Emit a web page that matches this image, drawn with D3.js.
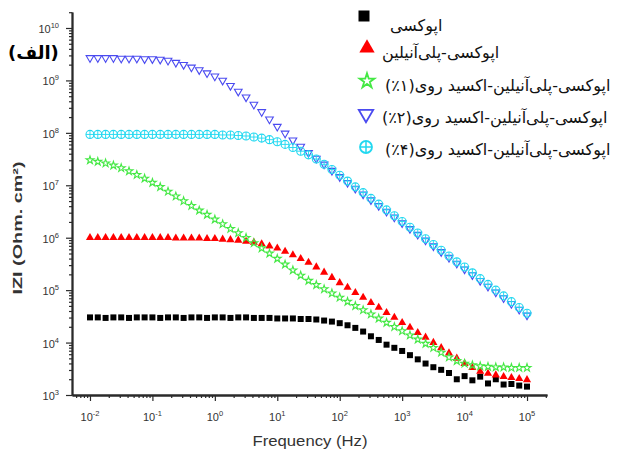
<!DOCTYPE html>
<html>
<head>
<meta charset="utf-8">
<script src="https://cdn.jsdelivr.net/npm/d3@7"></script>
<style>
  body { margin: 0; background: #fff; }
  svg { display: block; }
</style>
</head>
<body>
<div id="chart"></div>
<script>
(function() {
    'use strict';

    // log10 of frequency (Hz), 8 points per decade
    const logFreq = [
        -2, -1.875, -1.75, -1.625, -1.5, -1.375, -1.25, -1.125, -1,
        -0.875, -0.75, -0.625, -0.5, -0.375, -0.25, -0.125, 0,
        0.125, 0.25, 0.375, 0.5, 0.625, 0.75, 0.875, 1,
        1.125, 1.25, 1.375, 1.5, 1.625, 1.75, 1.875, 2,
        2.125, 2.25, 2.375, 2.5, 2.625, 2.75, 2.875, 3,
        3.125, 3.25, 3.375, 3.5, 3.625, 3.75, 3.875, 4,
        4.125, 4.25, 4.375, 4.5, 4.625, 4.75, 4.875, 5
    ];

    // log10 |Z| (Ohm.cm2)
    const epoxy = [
        4.48, 4.48, 4.47, 4.48, 4.48, 4.47, 4.48, 4.48, 4.48,
        4.47, 4.48, 4.48, 4.47, 4.48, 4.48, 4.47, 4.48,
        4.48, 4.47, 4.48, 4.48, 4.47, 4.47, 4.47, 4.46,
        4.46, 4.46, 4.45, 4.45, 4.44, 4.42, 4.40, 4.37,
        4.33, 4.28, 4.21, 4.12, 4.05, 3.96, 3.90, 3.84,
        3.76, 3.68, 3.60, 3.53, 3.48, 3.42, 3.30, 3.36,
        3.28, 3.35, 3.22, 3.30, 3.20, 3.21, 3.18, 3.16
    ];
    const epoxyPani = [
        6.00, 6.00, 6.00, 6.00, 6.00, 6.00, 6.00, 6.00, 6.00,
        6.00, 6.00, 5.99, 5.99, 5.99, 5.99, 5.98, 5.98,
        5.97, 5.96, 5.95, 5.93, 5.91, 5.88, 5.84, 5.80,
        5.74, 5.67, 5.60, 5.53, 5.44, 5.34, 5.24, 5.14,
        5.05, 4.95, 4.86, 4.76, 4.67, 4.57, 4.48, 4.38,
        4.29, 4.19, 4.10, 4.00, 3.90, 3.80, 3.70, 3.60,
        3.52, 3.45, 3.41, 3.38, 3.35, 3.33, 3.31, 3.29
    ];
    const epoxyPaniZno1 = [
        7.48, 7.45, 7.42, 7.38, 7.33, 7.27, 7.20, 7.13, 7.05,
        6.97, 6.88, 6.79, 6.70, 6.61, 6.52, 6.44, 6.35,
        6.26, 6.17, 6.09, 6.00, 5.90, 5.80, 5.70, 5.60,
        5.49, 5.38, 5.28, 5.18, 5.10, 5.02, 4.94, 4.86,
        4.78, 4.70, 4.62, 4.54, 4.46, 4.38, 4.30, 4.22,
        4.14, 4.06, 3.98, 3.90, 3.81, 3.72, 3.65, 3.60,
        3.57, 3.55, 3.54, 3.53, 3.53, 3.52, 3.52, 3.52
    ];
    const epoxyPaniZno2 = [
        9.43, 9.43, 9.43, 9.43, 9.42, 9.42, 9.42, 9.41, 9.41,
        9.40, 9.38, 9.34, 9.30, 9.25, 9.20, 9.14, 9.08,
        9.00, 8.90, 8.79, 8.68, 8.54, 8.40, 8.26, 8.12,
        7.99, 7.86, 7.74, 7.62, 7.51, 7.40, 7.28, 7.16,
        7.05, 6.94, 6.83, 6.72, 6.61, 6.50, 6.39, 6.28,
        6.17, 6.06, 5.95, 5.84, 5.73, 5.62, 5.51, 5.40,
        5.29, 5.18, 5.07, 4.96, 4.85, 4.74, 4.63, 4.52
    ];
    const epoxyPaniZno4 = [
        7.97, 7.97, 7.97, 7.97, 7.97, 7.97, 7.97, 7.97, 7.97,
        7.97, 7.97, 7.97, 7.97, 7.97, 7.97, 7.97, 7.97,
        7.96, 7.96, 7.95, 7.94, 7.92, 7.90, 7.87, 7.83,
        7.78, 7.72, 7.65, 7.58, 7.50, 7.40, 7.30, 7.19,
        7.08, 6.97, 6.86, 6.75, 6.64, 6.53, 6.42, 6.31,
        6.20, 6.09, 5.98, 5.87, 5.76, 5.65, 5.54, 5.44,
        5.33, 5.22, 5.11, 5.00, 4.89, 4.78, 4.67, 4.56
    ];

    const legendLabels = [
        'اپوکسی',
        'اپوکسی-پلی‌آنیلین',
        'اپوکسی-پلی‌آنیلین-اکسید روی(۱٪)',
        'اپوکسی-پلی‌آنیلین-اکسید روی(۲٪)',
        'اپوکسی-پلی‌آنیلین-اکسید روی(۴٪)'
    ];
    const xTickExp = [-2, -1, 0, 1, 2, 3, 4, 5];
    const yTickExp = [3, 4, 5, 6, 7, 8, 9, 10];

    const W = 623, H = 456;
    const svg = d3.select("#chart").append("svg")
        .attr("width", W)
        .attr("height", H);

    const x = d3.scaleLog()
        .domain([Math.pow(10, -2.288), Math.pow(10, 5.32)])
        .range([72, 547]);
    const y = d3.scaleLog()
        .domain([1e3, Math.pow(10, 10.305)])
        .range([395, 12]);

    // minor ticks 2..9 in every decade
    function minorTicks(scale) {
        const [a, b] = scale.domain();
        const out = [];
        for (let e = Math.floor(Math.log10(a)); e <= Math.ceil(Math.log10(b)); e++) {
            for (let m = 2; m <= 9; m++) {
                const v = m * Math.pow(10, e);
                if (v >= a && v <= b) out.push(v);
            }
        }
        return out;
    }

    const axisColor = "#2a2a2a";

    // X axis
    const gx = svg.append("g").attr("transform", "translate(0,395)");
    gx.append("g").call(d3.axisBottom(x).tickValues(minorTicks(x)).tickSize(3).tickSizeOuter(0).tickFormat(""));
    gx.append("g").call(d3.axisBottom(x).tickValues(xTickExp.map(e => Math.pow(10, e))).tickSize(6).tickSizeOuter(0).tickFormat(""));

    // Y axis
    const gy = svg.append("g").attr("transform", "translate(72,0)");
    gy.append("g").call(d3.axisLeft(y).tickValues(minorTicks(y)).tickSize(3).tickSizeOuter(0).tickFormat(""));
    gy.append("g").call(d3.axisLeft(y).tickValues(yTickExp.map(e => Math.pow(10, e))).tickSize(6).tickSizeOuter(0).tickFormat(""));

    svg.selectAll(".domain").attr("stroke", axisColor).attr("stroke-width", 1.8);
    svg.selectAll(".tick line").attr("stroke", axisColor).attr("stroke-width", 1.2);

    // power-of-ten labels
    function powLabel(px, py, exp, anchor) {
        const t = svg.append("text")
            .attr("x", px).attr("y", py)
            .attr("text-anchor", anchor)
            .style("font-family", "'Liberation Sans', Arial, sans-serif")
            .style("font-size", "11px")
            .style("fill", "#333");
        t.append("tspan").text("10");
        t.append("tspan").attr("dy", -5).style("font-size", "7.5px").text(exp);
    }
    xTickExp.forEach(e => powLabel(x(Math.pow(10, e)), 421, e, "middle"));
    yTickExp.forEach(e => powLabel(59, y(Math.pow(10, e)) + 5, e, "end"));

    // axis titles
    svg.append("text")
        .attr("x", 310).attr("y", 446)
        .attr("text-anchor", "middle")
        .attr("textLength", 115)
        .attr("lengthAdjust", "spacingAndGlyphs")
        .style("font-family", "'Liberation Sans', Arial, sans-serif")
        .style("font-size", "14px")
        .style("fill", "#333")
        .text("Frequency (Hz)");

    svg.append("text")
        .attr("transform", "translate(22,228) rotate(-90)")
        .attr("text-anchor", "middle")
        .attr("textLength", 133)
        .attr("lengthAdjust", "spacingAndGlyphs")
        .style("font-family", "'Liberation Sans', Arial, sans-serif")
        .style("font-size", "12px")
        .style("font-weight", "bold")
        .style("fill", "#333")
        .text("IZI (Ohm. cm²)");

    // series styles
    const series = [
        { values: epoxy,         kind: "square", color: "#000000" },
        { values: epoxyPani,     kind: "tri",    color: "#ff0000" },
        { values: epoxyPaniZno1, kind: "star",   color: "#44e844" },
        { values: epoxyPaniZno2, kind: "down",   color: "#4a4af0" },
        { values: epoxyPaniZno4, kind: "cross",  color: "#22d8f0" }
    ];

    function marker(g, kind, color, s, sw) {
        if (kind === "square") {
            g.append("path").attr("d", d3.symbol(d3.symbolSquare, s * s)).attr("fill", color);
        } else if (kind === "tri") {
            g.append("path").attr("d", d3.symbol(d3.symbolTriangle, s * s * 0.45)).attr("fill", color);
        } else if (kind === "star") {
            g.append("path").attr("d", d3.symbol(d3.symbolStar, s * s * 0.3))
                .attr("fill", "none").attr("stroke", color).attr("stroke-width", sw);
        } else if (kind === "down") {
            g.append("path").attr("d", d3.symbol(d3.symbolTriangle, s * s * 0.4))
                .attr("transform", "rotate(180)")
                .attr("fill", "none").attr("stroke", color).attr("stroke-width", sw);
        } else {
            const r = s / 2;
            g.append("circle").attr("r", r).attr("fill", "none").attr("stroke", color).attr("stroke-width", sw);
            g.append("path").attr("d", `M${-r},0H${r}M0,${-r}V${r}`).attr("stroke", color).attr("stroke-width", sw * 0.85);
        }
    }

    const plot = svg.append("g");
    series.forEach(sr => {
        const pts = plot.append("g").selectAll("g")
            .data(logFreq.map((lf, i) => ({ f: Math.pow(10, lf), z: Math.pow(10, sr.values[i]) })))
            .enter().append("g")
            .attr("transform", d => `translate(${x(d.f)},${y(d.z)})`);
        pts.each(function() {
            marker(d3.select(this), sr.kind, sr.color, sr.kind === "square" ? 6 : 8, 1.1);
        });
    });

    // legend
    const legendRows = [
        { sx: 364, sy: 16, ty: 31, tx: 390, size: 11 },
        { sx: 367, sy: 48, ty: 58, tx: 382, size: 15 },
        { sx: 367, sy: 81, ty: 91, tx: 385, size: 15 },
        { sx: 366, sy: 114, ty: 123, tx: 382, size: 15 },
        { sx: 366, sy: 147, ty: 155, tx: 385, size: 12 }
    ];
    legendRows.forEach((row, i) => {
        const g = svg.append("g").attr("transform", `translate(${row.sx},${row.sy})`);
        marker(g, series[i].kind, series[i].color, row.size, 1.8);

        const t = svg.append("text")
            .attr("x", row.tx).attr("y", row.ty)
            .attr("direction", "rtl")
            .style("font-family", "'DejaVu Sans', sans-serif")
            .style("font-size", "16px")
            .style("fill", "#111")
            .text(legendLabels[i]);
        const bb = t.node().getBBox();
        t.attr("x", row.tx + (row.tx - bb.x));
    });

    // panel tag
    const tag = svg.append("text")
        .attr("x", 8).attr("y", 59)
        .attr("direction", "rtl")
        .style("font-family", "'DejaVu Sans', sans-serif")
        .style("font-size", "18px")
        .style("font-weight", "bold")
        .style("fill", "#000")
        .text("(الف)");
    const tb = tag.node().getBBox();
    tag.attr("x", 8 + (8 - tb.x));
})();
</script>
</body>
</html>
